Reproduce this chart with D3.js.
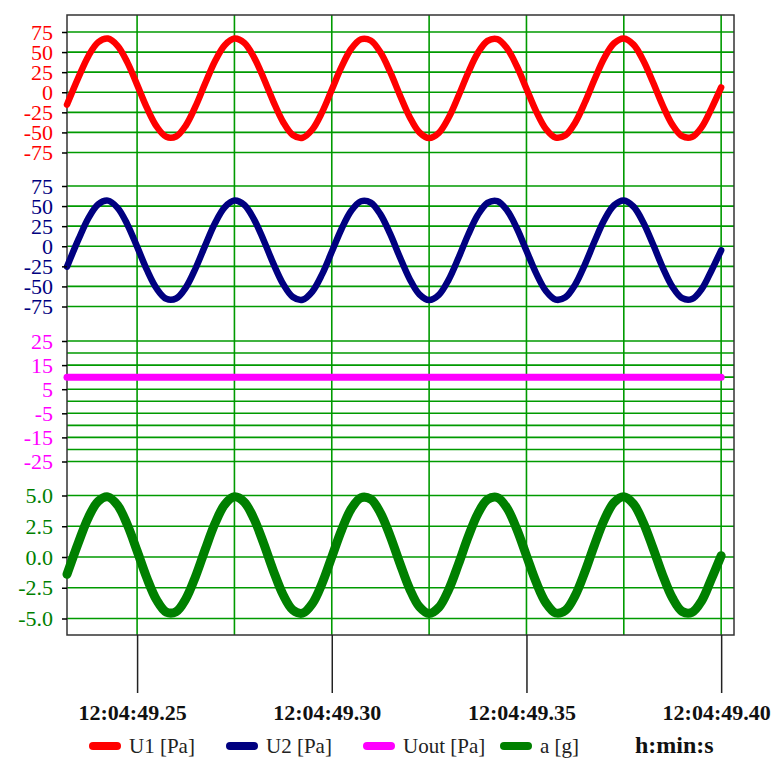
<!DOCTYPE html>
<html>
<head>
<meta charset="utf-8">
<script src="https://cdn.jsdelivr.net/npm/d3@7"></script>
<style>
  body { margin: 0; background: #fff; }
  svg { display: block; }
</style>
</head>
<body>
<svg id="chart" width="778" height="760"></svg>
<script>
// sample times, ms after 12:04:49
const timesMs = [232, 235, 237.5, 240, 242.5, 245, 247.5, 250, 252.5, 255, 257.5, 260, 262.5, 265, 267.5, 270,
  272.5, 275, 277.5, 280, 282.5, 285, 287.5, 290, 292.5, 295, 297.5, 300, 302.5, 305, 307.5, 310, 312.5, 315,
  317.5, 320, 322.5, 325, 327.5, 330, 332.5, 335, 337.5, 340, 342.5, 345, 347.5, 350, 352.5, 355, 357.5, 360,
  362.5, 365, 367.5, 370, 372.5, 375, 377.5, 380, 382.5, 385, 387.5, 390, 392.5, 395, 397.5, 400];

// U1 [Pa]
const u1Values = [-15.4, 19.1, 45.1, 62.2, 66.8, 57.8, 37.2, 9.5, -19.2, -42.5, -55.5, -55.1, -41.5, -17.7, 11.1, 38.6,
  58.6, 66.9, 61.6, 43.8, 17.5, -11.6, -37.0, -53.2, -56.6, -46.4, -25.0, 3.1, 31.5, 54.1, 66.0, 64.4, 49.7, 25.3,
  -3.7, -30.7, -49.9, -57.0, -50.5, -31.8, -5.0, 24.0, 48.8, 64.0, 66.2, 54.9, 32.7, 4.4, -23.8, -45.7, -56.4, -53.6,
  -37.9, -12.8, 16.2, 42.8, 61.0, 67.0, 59.3, 39.6, 12.4, -16.5, -40.6, -54.7, -55.7, -43.4, -20.4, 6.0];

// U2 [Pa]
const u2Values = [-25.4, 9.1, 35.1, 52.2, 56.8, 47.8, 27.2, -0.5, -29.2, -52.5, -65.5, -65.1, -51.5, -27.7, 1.1, 28.6,
  48.6, 56.9, 51.6, 33.8, 7.5, -21.6, -47.0, -63.2, -66.6, -56.4, -35.0, -6.9, 21.5, 44.1, 56.0, 54.4, 39.7, 15.3,
  -13.7, -40.7, -59.9, -67.0, -60.5, -41.8, -15.0, 14.0, 38.8, 54.0, 56.2, 44.9, 22.7, -5.6, -33.8, -55.7, -66.4, -63.6,
  -47.9, -22.8, 6.2, 32.8, 51.0, 57.0, 49.3, 29.6, 2.4, -26.5, -50.6, -64.7, -65.7, -53.4, -30.4, -5.0];

// Uout [Pa]
const uoutTimes = [232, 400];
const uoutValues = [10, 10];

// a [g]
const aValues = [-1.41, 1.23, 3.22, 4.53, 4.89, 4.20, 2.62, 0.50, -1.70, -3.49, -4.48, -4.45, -3.41, -1.59, 0.62, 2.72,
  4.26, 4.89, 4.48, 3.12, 1.11, -1.12, -3.07, -4.31, -4.57, -3.79, -2.15, 0.00, 2.18, 3.92, 4.82, 4.70, 3.58, 1.70,
  -0.52, -2.59, -4.05, -4.60, -4.10, -2.67, -0.61, 1.61, 3.51, 4.67, 4.84, 3.98, 2.27, 0.10, -2.06, -3.73, -4.55, -4.34,
  -3.14, -1.21, 1.01, 3.04, 4.44, 4.90, 4.31, 2.80, 0.72, -1.49, -3.34, -4.43, -4.50, -3.56, -1.79, 0.10];

// axes
const timeDomain = [232, 403.3];
const timeGrid = [250, 275, 300, 325, 350, 375, 400];
const timeTicks = [250, 300, 350, 400];
const timeLabels = ["12:04:49.25", "12:04:49.30", "12:04:49.35", "12:04:49.40"];

const u1Ticks = [75, 50, 25, 0, -25, -50, -75];
const u1Labels = ["75", "50", "25", "0", "-25", "-50", "-75"];
const u2Ticks = [75, 50, 25, 0, -25, -50, -75];
const u2Labels = ["75", "50", "25", "0", "-25", "-50", "-75"];
const uoutTicks = [25, 15, 5, -5, -15, -25];
const uoutLabels = ["25", "15", "5", "-5", "-15", "-25"];
const uoutGrid = [25, 20, 15, 10, 5, 0, -5, -10, -15, -20, -25];
const aTicks = [5, 2.5, 0, -2.5, -5];
const aLabels = ["5.0", "2.5", "0.0", "-2.5", "-5.0"];

const legendNames = ["U1 [Pa]", "U2 [Pa]", "Uout [Pa]", "a [g]"];
const unitLabel = "h:min:s";

// layout
const plotL = 67, plotR = 734, plotT = 15, plotB = 635;
const serif = "'Liberation Serif', 'Times New Roman', serif";
const gridColor = "#009a00";

const svg = d3.select("#chart");

const x = d3.scaleLinear().domain(timeDomain).range([plotL, plotR]);

const panels = [
  { times: timesMs, values: u1Values, ticks: u1Ticks, labels: u1Labels, grid: u1Ticks,
    domain: [-75, 75], range: [152.5, 32], color: "#ff0000", width: 6.5 },
  { times: timesMs, values: u2Values, ticks: u2Ticks, labels: u2Labels, grid: u2Ticks,
    domain: [-75, 75], range: [306.5, 186], color: "#000080", width: 6.5 },
  { times: uoutTimes, values: uoutValues, ticks: uoutTicks, labels: uoutLabels, grid: uoutGrid,
    domain: [-25, 25], range: [461.5, 341], color: "#ff00ff", width: 7 },
  { times: timesMs, values: aValues, ticks: aTicks, labels: aLabels, grid: aTicks,
    domain: [-5, 5], range: [618.5, 495.5], color: "#008000", width: 9 }
];
panels.forEach(p => { p.y = d3.scaleLinear().domain(p.domain).range(p.range); });

// vertical grid
svg.append("g")
  .selectAll("line")
  .data(timeGrid)
  .join("line")
  .attr("x1", d => x(d)).attr("x2", d => x(d))
  .attr("y1", plotT).attr("y2", plotB)
  .attr("stroke", gridColor)
  .attr("stroke-width", 1.6);

// horizontal grid
panels.forEach(p => {
  svg.append("g")
    .selectAll("line")
    .data(p.grid)
    .join("line")
    .attr("x1", plotL).attr("x2", plotR)
    .attr("y1", d => p.y(d)).attr("y2", d => p.y(d))
    .attr("stroke", gridColor)
    .attr("stroke-width", 1.6);
});

// frame
svg.append("rect")
  .attr("x", plotL).attr("y", plotT)
  .attr("width", plotR - plotL).attr("height", plotB - plotT)
  .attr("fill", "none")
  .attr("stroke", "#333")
  .attr("stroke-width", 1.5);

// curves
panels.forEach(p => {
  const line = d3.line()
    .x((d, i) => x(p.times[i]))
    .y(d => p.y(d))
    .curve(d3.curveCatmullRom);
  svg.append("path")
    .datum(p.values)
    .attr("d", line)
    .attr("fill", "none")
    .attr("stroke", p.color)
    .attr("stroke-width", p.width)
    .attr("stroke-linejoin", "round")
    .attr("stroke-linecap", "round");
});

// y axes
panels.forEach(p => {
  const ax = svg.append("g")
    .attr("transform", `translate(${plotL},0)`)
    .call(d3.axisLeft(p.y)
      .tickValues(p.ticks)
      .tickSize(5)
      .tickPadding(9)
      .tickFormat((d, i) => p.labels[i]));
  ax.select(".domain").remove();
  ax.selectAll(".tick line").attr("stroke", "#000").attr("stroke-width", 1.5);
  ax.selectAll(".tick text")
    .attr("fill", p.color)
    .style("font-family", serif)
    .style("font-size", "22px");
});

// time axis
const tax = svg.append("g")
  .attr("transform", `translate(0,${plotB})`)
  .call(d3.axisBottom(x)
    .tickValues(timeTicks)
    .tickSize(58)
    .tickPadding(10)
    .tickFormat((d, i) => timeLabels[i]));
tax.select(".domain").remove();
tax.selectAll(".tick line").attr("stroke", "#222").attr("stroke-width", 1.5);
tax.selectAll(".tick text")
  .attr("fill", "#111")
  .attr("dx", -5)
  .attr("dy", 0)
  .attr("y", 85)
  .style("font-family", serif)
  .style("font-weight", "bold")
  .style("font-size", "22px");

// legend
const legendX = [89, 226, 363, 500];
const legendColors = panels.map(p => p.color);
const legendY = 746;
const lg = svg.append("g");
legendNames.forEach((name, i) => {
  lg.append("line")
    .attr("x1", legendX[i] + 4).attr("x2", legendX[i] + 28)
    .attr("y1", legendY).attr("y2", legendY)
    .attr("stroke", legendColors[i])
    .attr("stroke-width", 8)
    .attr("stroke-linecap", "round");
  lg.append("text")
    .attr("x", legendX[i] + 40)
    .attr("y", legendY + 7)
    .attr("fill", "#222")
    .style("font-family", serif)
    .style("font-size", "21px")
    .text(name);
});
lg.append("text")
  .attr("x", 635)
  .attr("y", legendY + 7)
  .attr("fill", "#111")
  .style("font-family", serif)
  .style("font-weight", "bold")
  .style("font-size", "24px")
  .text(unitLabel);
</script>
</body>
</html>
